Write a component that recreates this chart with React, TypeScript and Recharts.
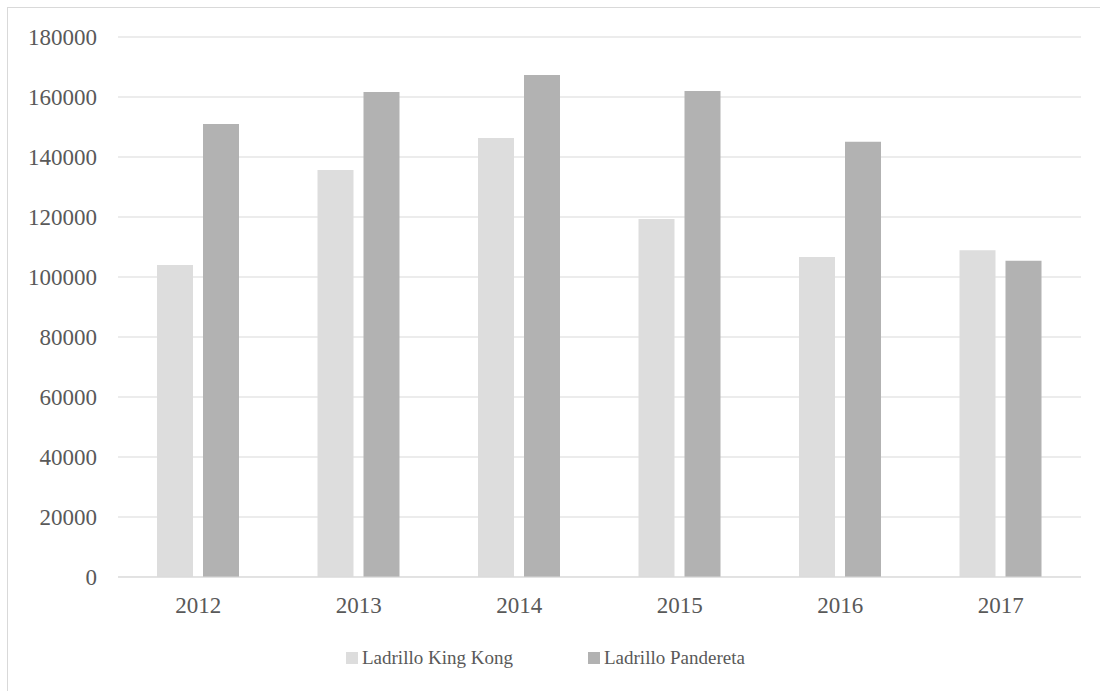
import React from 'react';
import { BarChart, Bar, XAxis, YAxis, CartesianGrid, Legend } from 'recharts';

const years = ['2012', '2013', '2014', '2015', '2016', '2017'];
const kingKong = [104000, 135700, 146300, 119300, 106700, 108900];
const pandereta = [151000, 161700, 167300, 162000, 145100, 105400];
const yTicks = [0, 20000, 40000, 60000, 80000, 100000, 120000, 140000, 160000, 180000];

const seriesNames = ['Ladrillo King Kong', 'Ladrillo Pandereta'];
const seriesColors = ['#dddddd', '#b2b2b2'];

const data = years.map((year, i) => ({
  year,
  kingKong: kingKong[i],
  pandereta: pandereta[i],
}));

const FONT = 'Liberation Serif, DejaVu Serif, serif';
const TEXT = '#595959';
const GRID = '#d9d9d9';

const legendLeft = [346, 588];

const renderLegend = () => (
  <div style={{ position: 'relative', width: 400, height: 20 }}>
    {seriesNames.map((name, i) => (
      <div
        key={name}
        style={{
          position: 'absolute',
          left: legendLeft[i] - legendLeft[0],
          top: 0,
          display: 'flex',
          alignItems: 'center',
          height: 19,
          fontFamily: FONT,
          fontSize: 19,
          lineHeight: '19px',
          color: TEXT,
          whiteSpace: 'nowrap',
        }}
      >
        <span style={{ width: 12, height: 12, background: seriesColors[i], marginRight: 4 }} />
        {name}
      </div>
    ))}
  </div>
);

const App = () => {
  return (
    <div
      style={{
        position: 'fixed',
        left: 0,
        top: 0,
        width: 1100,
        height: 691,
        overflow: 'hidden',
        background: '#ffffff',
        fontFamily: FONT,
      }}
    >
      {/* frame of the chart area, only top and left edges fall inside the view */}
      <div
        style={{
          position: 'absolute',
          left: 7,
          top: 7,
          width: 1200,
          height: 800,
          borderTop: `1px solid ${GRID}`,
          borderLeft: `1px solid ${GRID}`,
        }}
      />
      <div style={{ position: 'absolute', left: 0, top: 0 }}>
        <BarChart
          width={1100}
          height={691}
          data={data}
          margin={{ top: 37, right: 19, left: 0, bottom: 74 }}
          barGap={10}
          barSize={36}
          style={{ fontFamily: FONT }}
        >
          <CartesianGrid vertical={false} stroke={GRID} strokeWidth={1} />
          <XAxis
            dataKey="year"
            axisLine={{ stroke: GRID }}
            tickLine={false}
            tickSize={0}
            tickMargin={20}
            height={40}
            tick={{ fill: TEXT, fontSize: 23, fontFamily: FONT }}
          />
          <YAxis
            domain={[0, 180000]}
            ticks={yTicks}
            axisLine={false}
            tickLine={false}
            tickSize={0}
            tickMargin={21}
            width={118}
            tick={{ fill: TEXT, fontSize: 23, fontFamily: FONT }}
          />
          <Legend
            layout="horizontal"
            verticalAlign="middle"
            align="center"
            content={renderLegend}
            wrapperStyle={{ left: legendLeft[0], top: 648, width: 400, height: 20 }}
          />
          <Bar dataKey="kingKong" name={seriesNames[0]} fill={seriesColors[0]} isAnimationActive={false} />
          <Bar dataKey="pandereta" name={seriesNames[1]} fill={seriesColors[1]} isAnimationActive={false} />
        </BarChart>
      </div>
    </div>
  );
};

export default App;
